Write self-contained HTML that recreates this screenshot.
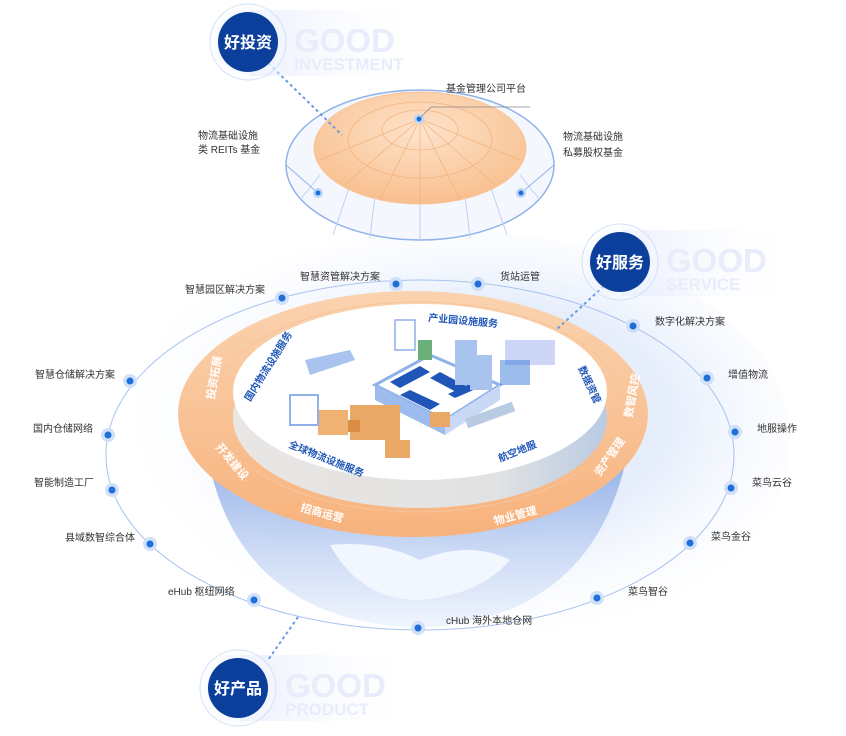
<!DOCTYPE html>
<html><head><meta charset="utf-8"><style>
body{margin:0;background:#fff;}
svg{display:block;font-family:"Liberation Sans","Noto Sans CJK SC",sans-serif;}
.lb{font-size:10px;fill:#333;}
.rg{font-size:11px;fill:#fff;font-weight:bold;}
.dk{font-size:10px;fill:#1f56b8;font-weight:bold;}
</style></head><body>
<svg width="846" height="736" viewBox="0 0 846 736" xmlns="http://www.w3.org/2000/svg">
<defs>
<radialGradient id="orng" cx="50%" cy="35%" r="65%"><stop offset="0" stop-color="#fde3cb"/><stop offset="1" stop-color="#f9bf8e"/></radialGradient>
<linearGradient id="gl" x1="0" y1="0" x2="0" y2="1"><stop offset="0" stop-color="#7d9fe0"/><stop offset="0.6" stop-color="#c6d6f4"/><stop offset="1" stop-color="#eef3fd"/></linearGradient>
<radialGradient id="halo" cx="50%" cy="50%" r="50%"><stop offset="0.6" stop-color="#e3ecfb"/><stop offset="1" stop-color="#fff" stop-opacity="0"/></radialGradient>
<radialGradient id="glow" cx="55%" cy="45%" r="55%"><stop offset="0.5" stop-color="#e6eefc"/><stop offset="1" stop-color="#fff" stop-opacity="0"/></radialGradient>
<linearGradient id="ring" x1="0" y1="0" x2="0" y2="1"><stop offset="0" stop-color="#fbd3b0"/><stop offset="1" stop-color="#f7b27c"/></linearGradient>
<linearGradient id="side" x1="0" y1="0" x2="1" y2="0"><stop offset="0" stop-color="#e9e6e4"/><stop offset="0.7" stop-color="#e2e2e2"/><stop offset="1" stop-color="#b9cbe3"/></linearGradient>
<linearGradient id="fadeR" x1="0" y1="0" x2="1" y2="0"><stop offset="0" stop-color="#dfe6fb"/><stop offset="1" stop-color="#fff" stop-opacity="0"/></linearGradient>
<linearGradient id="lnR" x1="0" y1="0" x2="1" y2="0"><stop offset="0" stop-color="#8fb3ea"/><stop offset="1" stop-color="#8fb3ea" stop-opacity="0"/></linearGradient>
<linearGradient id="lnL" x1="1" y1="0" x2="0" y2="0"><stop offset="0" stop-color="#8fb3ea"/><stop offset="1" stop-color="#8fb3ea" stop-opacity="0"/></linearGradient>
</defs>

<ellipse cx="450" cy="440" rx="340" ry="210" fill="url(#glow)"/>
<path d="M205 440 Q230 620 418 628 Q600 620 630 440 Z" fill="url(#gl)" opacity="0.85"/>
<path d="M330 545 Q360 600 420 600 Q480 595 510 560 Q470 540 420 560 Q380 540 330 545Z" fill="#f2f6fe"/>
<ellipse cx="420" cy="455" rx="314" ry="175" fill="none" stroke="#a8c3ee" stroke-width="1"/>

<ellipse cx="413" cy="414" rx="235" ry="123" fill="url(#ring)"/>
<ellipse cx="418" cy="407" rx="205" ry="105" fill="none" stroke="#f6c49b" stroke-width="1"/>
<ellipse cx="420" cy="418" rx="187" ry="90" fill="url(#side)"/>
<ellipse cx="420" cy="392" rx="187" ry="88" fill="#fff"/>

<text class="rg" transform="translate(214,400) rotate(-80)">投资拓展</text>
<text class="rg" transform="translate(215,447) rotate(50)">开发建设</text>
<text class="rg" transform="translate(300,511) rotate(15)">招商运营</text>
<text class="rg" transform="translate(495,525) rotate(-15)">物业管理</text>
<text class="rg" transform="translate(600,477) rotate(-55)">资产管理</text>
<text class="rg" transform="translate(632,418) rotate(-80)">数智风控</text>

<text class="dk" x="428" y="321" transform="rotate(5 428 321)">产业园设施服务</text>
<text class="dk" transform="translate(250,402) rotate(-58)">国内物流设施服务</text>
<text class="dk" transform="translate(578,368) rotate(65)">数据资管</text>
<text class="dk" transform="translate(288,447) rotate(22)">全球物流设施服务</text>
<text class="dk" transform="translate(500,462) rotate(-22)">航空地服</text>

<g>
<path d="M375 385 L430 355 L500 385 L445 420 Z" fill="#fff" stroke="#8fb0e8" stroke-width="3"/>
<path d="M375 385 L445 420 L445 435 L375 400Z" fill="#9dbbec"/>
<path d="M445 420 L500 385 L500 400 L445 435Z" fill="#c9d9f5"/>
<path d="M390 382 L420 366 L430 372 L400 388Z" fill="#1f56b8"/>
<path d="M440 372 L470 388 L460 394 L430 378Z" fill="#1f56b8"/>
<path d="M400 395 L430 410 L440 404 L410 390Z" fill="#1f56b8"/>
<path d="M455 398 L485 385 L478 380 L448 394Z" fill="#1f56b8"/>
<rect x="350" y="405" width="50" height="35" fill="#e9a865"/>
<rect x="345" y="420" width="15" height="12" fill="#d98d45"/>
<rect x="385" y="440" width="25" height="18" fill="#e9a865"/>
<rect x="318" y="410" width="30" height="25" fill="#f0b272"/>
<rect x="290" y="395" width="28" height="30" fill="none" stroke="#8fb0e8" stroke-width="2"/>
<rect x="455" y="340" width="22" height="45" fill="#a8c4ee"/>
<rect x="470" y="355" width="22" height="35" fill="#a8c4ee"/>
<rect x="418" y="340" width="14" height="20" fill="#6bb07a"/>
<rect x="505" y="340" width="50" height="25" fill="#cdd6f6"/>
<rect x="500" y="360" width="30" height="25" fill="#3a7ad8" opacity="0.5"/>
<path d="M305 360 L350 350 L355 360 L310 375Z" fill="#a8c4ee"/>
<rect x="395" y="320" width="20" height="30" fill="none" stroke="#8fb0e8" stroke-width="1.5"/>
<rect x="465" y="410" width="50" height="10" fill="#b9cbe3" transform="rotate(-20 490 415)"/>
<rect x="430" y="412" width="20" height="15" fill="#e9a865"/>
</g>

<ellipse cx="420" cy="165" rx="134" ry="75" fill="#f4f8fe" stroke="#8fb3ea" stroke-width="1.5"/>
<g stroke="#bcd2f2" stroke-width="1" fill="none">
<path d="M333 235 L350 185"/><path d="M370 238 L375 195"/><path d="M420 240 L420 205"/><path d="M470 238 L465 195"/><path d="M507 235 L490 185"/><path d="M300 200 L320 175"/><path d="M540 200 L520 175"/>
</g>
<ellipse cx="420" cy="148" rx="106" ry="56" fill="url(#orng)" stroke="#f6c49b" stroke-width="1"/>
<g stroke="#f3ad73" stroke-width="0.8" fill="none" opacity="0.8">
<ellipse cx="420" cy="140" rx="72" ry="38"/><ellipse cx="420" cy="130" rx="38" ry="20"/>
<path d="M420 119 L420 204"/><path d="M420 119 L380 200"/><path d="M420 119 L460 200"/><path d="M420 119 L345 185"/><path d="M420 119 L495 185"/><path d="M420 119 L320 160"/><path d="M420 119 L520 160"/>
</g>
<line x1="260" y1="55" x2="342" y2="135" stroke="#6a9be0" stroke-width="2" stroke-dasharray="3 3"/>
<circle cx="419" cy="119" r="5" fill="#bcd6f6"/><circle cx="419" cy="119" r="2.5" fill="#1f6fd8"/>
<polyline points="421,117 431,107 530,107" fill="none" stroke="#888" stroke-width="0.8"/>
<text class="lb" x="446" y="92">基金管理公司平台</text>
<line x1="190" y1="165" x2="286" y2="165" stroke="url(#lnL)"/>
<line x1="286" y1="165" x2="318" y2="193" stroke="#8fb3ea"/>
<circle cx="318" cy="193" r="5" fill="#bcd6f6"/><circle cx="318" cy="193" r="2.5" fill="#1f6fd8"/>
<text class="lb" x="198" y="139">物流基础设施</text><text class="lb" x="198" y="153">类 REITs 基金</text>
<line x1="554" y1="165" x2="650" y2="165" stroke="url(#lnR)"/>
<line x1="554" y1="165" x2="521" y2="193" stroke="#8fb3ea"/>
<circle cx="521" cy="193" r="5" fill="#bcd6f6"/><circle cx="521" cy="193" r="2.5" fill="#1f6fd8"/>
<text class="lb" x="563" y="140">物流基础设施</text><text class="lb" x="563" y="156">私募股权基金</text>

<g>
<rect x="250" y="10" width="180" height="66" fill="url(#fadeR)" opacity="0.6"/>
<text x="294" y="52" font-size="33" font-weight="bold" fill="#e8ecfb">GOOD</text>
<text x="294" y="70" font-size="17" font-weight="bold" fill="#e8ecfb">INVESTMENT</text>
<circle cx="248" cy="42" r="40" fill="url(#halo)"/><circle cx="248" cy="42" r="38" fill="none" stroke="#cfe0f8"/>
<circle cx="248" cy="42" r="30" fill="#0c3f9c"/>
<text x="248" y="48" font-size="16" font-weight="bold" fill="#fff" text-anchor="middle">好投资</text>
</g>
<g>
<rect x="622" y="230" width="180" height="66" fill="url(#fadeR)" opacity="0.6"/>
<text x="666" y="272" font-size="33" font-weight="bold" fill="#e8ecfb">GOOD</text>
<text x="666" y="290" font-size="17" font-weight="bold" fill="#e8ecfb">SERVICE</text>
<line x1="604" y1="286" x2="556" y2="330" stroke="#6a9be0" stroke-width="2" stroke-dasharray="3 3"/>
<circle cx="620" cy="262" r="40" fill="url(#halo)"/><circle cx="620" cy="262" r="38" fill="none" stroke="#cfe0f8"/>
<circle cx="620" cy="262" r="30" fill="#0c3f9c"/>
<text x="620" y="268" font-size="16" font-weight="bold" fill="#fff" text-anchor="middle">好服务</text>
</g>
<g>
<rect x="240" y="655" width="180" height="66" fill="url(#fadeR)" opacity="0.6"/>
<text x="285" y="697" font-size="33" font-weight="bold" fill="#e8ecfb">GOOD</text>
<text x="285" y="715" font-size="17" font-weight="bold" fill="#e8ecfb">PRODUCT</text>
<line x1="298" y1="617" x2="268" y2="660" stroke="#6a9be0" stroke-width="2" stroke-dasharray="3 3"/>
<circle cx="238" cy="688" r="40" fill="url(#halo)"/><circle cx="238" cy="688" r="38" fill="none" stroke="#cfe0f8"/>
<circle cx="238" cy="688" r="30" fill="#0c3f9c"/>
<text x="238" y="694" font-size="16" font-weight="bold" fill="#fff" text-anchor="middle">好产品</text>
</g>

<g>
<line x1="160" y1="298" x2="282" y2="298" stroke="url(#lnL)"/><text class="lb" x="185" y="293">智慧园区解决方案</text>
<line x1="290" y1="284" x2="396" y2="284" stroke="url(#lnL)"/><text class="lb" x="300" y="280">智慧资管解决方案</text>
<line x1="478" y1="284" x2="580" y2="284" stroke="url(#lnR)"/><text class="lb" x="500" y="280">货站运管</text>
<line x1="633" y1="326" x2="740" y2="326" stroke="url(#lnR)"/><text class="lb" x="655" y="325">数字化解决方案</text>
<line x1="707" y1="378" x2="800" y2="378" stroke="url(#lnR)"/><text class="lb" x="728" y="378">增值物流</text>
<line x1="735" y1="432" x2="825" y2="432" stroke="url(#lnR)"/><text class="lb" x="757" y="432">地服操作</text>
<line x1="731" y1="488" x2="830" y2="488" stroke="url(#lnR)"/><text class="lb" x="752" y="486">菜鸟云谷</text>
<line x1="690" y1="543" x2="790" y2="543" stroke="url(#lnR)"/><text class="lb" x="711" y="540">菜鸟金谷</text>
<line x1="597" y1="598" x2="700" y2="598" stroke="url(#lnR)"/><text class="lb" x="628" y="595">菜鸟智谷</text>
<line x1="418" y1="628" x2="535" y2="628" stroke="url(#lnR)"/><text class="lb" x="446" y="624">cHub 海外本地仓网</text>
<line x1="160" y1="600" x2="254" y2="600" stroke="url(#lnL)"/><text class="lb" x="168" y="595">eHub 枢纽网络</text>
<line x1="60" y1="544" x2="150" y2="544" stroke="url(#lnL)"/><text class="lb" x="65" y="541">县域数智综合体</text>
<line x1="20" y1="490" x2="112" y2="490" stroke="url(#lnL)"/><text class="lb" x="34" y="486">智能制造工厂</text>
<line x1="20" y1="435" x2="108" y2="435" stroke="url(#lnL)"/><text class="lb" x="33" y="432">国内仓储网络</text>
<line x1="20" y1="381" x2="130" y2="381" stroke="url(#lnL)"/><text class="lb" x="35" y="378">智慧仓储解决方案</text>
</g>
<g fill="#cfe0f8">
<circle cx="282" cy="298" r="7"/><circle cx="396" cy="284" r="7"/><circle cx="478" cy="284" r="7"/><circle cx="633" cy="326" r="7"/><circle cx="707" cy="378" r="7"/><circle cx="735" cy="432" r="7"/><circle cx="731" cy="488" r="7"/><circle cx="690" cy="543" r="7"/><circle cx="597" cy="598" r="7"/><circle cx="418" cy="628" r="7"/><circle cx="254" cy="600" r="7"/><circle cx="150" cy="544" r="7"/><circle cx="112" cy="490" r="7"/><circle cx="108" cy="435" r="7"/><circle cx="130" cy="381" r="7"/>
</g>
<g fill="#1f6fd8">
<circle cx="282" cy="298" r="3.5"/><circle cx="396" cy="284" r="3.5"/><circle cx="478" cy="284" r="3.5"/><circle cx="633" cy="326" r="3.5"/><circle cx="707" cy="378" r="3.5"/><circle cx="735" cy="432" r="3.5"/><circle cx="731" cy="488" r="3.5"/><circle cx="690" cy="543" r="3.5"/><circle cx="597" cy="598" r="3.5"/><circle cx="418" cy="628" r="3.5"/><circle cx="254" cy="600" r="3.5"/><circle cx="150" cy="544" r="3.5"/><circle cx="112" cy="490" r="3.5"/><circle cx="108" cy="435" r="3.5"/><circle cx="130" cy="381" r="3.5"/>
</g>
</svg>
</body></html>
